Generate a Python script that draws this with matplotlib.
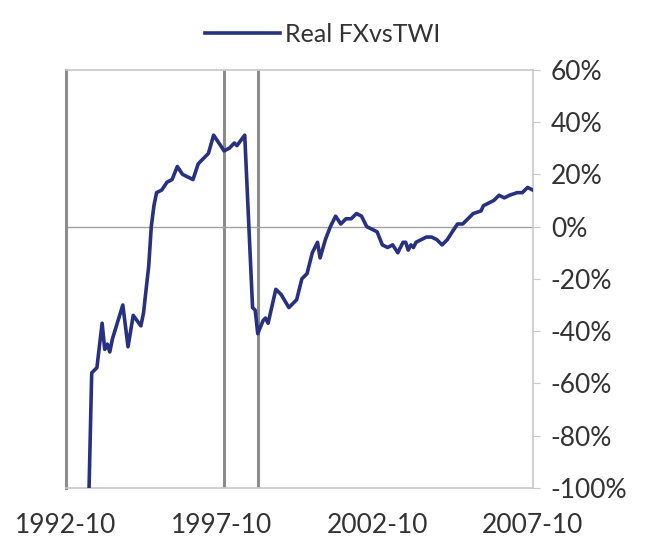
import matplotlib
matplotlib.use("Agg")
import matplotlib.pyplot as plt
import matplotlib.dates as mdates
import pandas as pd

# real FX vs TWI, %
months = ["1993-07", "1993-08", "1993-10", "1993-12", "1994-01", "1994-02", "1994-03",
          "1994-04", "1994-08", "1994-10", "1994-12", "1995-03", "1995-04", "1995-06",
          "1995-07", "1995-08", "1995-09", "1995-11", "1996-01", "1996-03", "1996-05",
          "1996-07", "1996-09", "1996-11", "1997-01", "1997-03", "1997-05", "1997-07",
          "1997-09", "1997-11", "1998-01", "1998-03", "1998-04", "1998-07", "1998-10",
          "1998-11", "1998-12", "1999-02", "1999-03", "1999-04", "1999-07", "1999-09",
          "1999-12", "2000-03", "2000-05", "2000-07", "2000-09", "2000-11", "2000-12",
          "2001-02", "2001-04", "2001-06", "2001-08", "2001-10", "2001-12", "2002-02",
          "2002-04", "2002-06", "2002-08", "2002-10", "2002-12", "2003-02", "2003-04",
          "2003-06", "2003-08", "2003-09", "2003-10", "2003-11", "2003-12", "2004-01",
          "2004-03", "2004-05", "2004-07", "2004-09", "2004-11", "2005-01", "2005-03",
          "2005-05", "2005-07", "2005-09", "2005-11", "2006-02", "2006-03", "2006-05",
          "2006-07", "2006-09", "2006-11", "2007-01", "2007-04", "2007-06", "2007-08",
          "2007-10"]
real_fx = [-100, -56, -54, -37, -47, -45, -48,
           -43, -30, -46, -34, -38, -33, -15,
           0, 8, 13, 14, 17, 18, 23,
           20, 19, 18, 24, 26, 28, 35,
           32, 29, 30, 32, 31, 35, -31,
           -32, -41, -36, -35, -37, -24, -26,
           -31, -28, -20, -18, -10, -6, -12,
           -5, 0, 4, 1, 3, 3, 5,
           4, 0, -1, -2, -7, -8, -7,
           -10, -6, -6, -9, -7, -8, -6,
           -5, -4, -4, -5, -7, -5, -2,
           1, 1, 3, 5, 6, 8, 9,
           10, 12, 11, 12, 13, 13, 15,
           14]
markers = ["1997-11", "1998-12"]
xticks = ["1992-10", "1997-10", "2002-10", "2007-10"]
yticks = [60, 40, 20, 0, -20, -40, -60, -80, -100]

dates = pd.to_datetime(months)

plt.rcParams['font.family'] = ['Lato', 'DejaVu Sans']
fig = plt.figure(figsize=(6.45, 5.5), dpi=100)
ax = fig.add_axes([0.102, 0.113, 0.724, 0.76])

for m in markers:
    ax.axvline(pd.to_datetime(m), color="#8c8c8c", lw=2.2, zorder=1)
ax.axhline(0, color="#a0a0a0", lw=1, zorder=1)
ax.plot(dates, real_fx, color="#27317f", lw=2.6, label="Real FXvsTWI", zorder=3)

ax.set_xlim(pd.to_datetime("1992-10"), pd.to_datetime("2007-10"))
ax.set_ylim(-100, 60)
ax.set_xticks(pd.to_datetime(xticks))
ax.xaxis.set_major_formatter(mdates.DateFormatter("%Y-%m"))
ax.set_yticks(yticks)
ax.set_yticklabels([f"{v}%" for v in yticks])
ax.yaxis.tick_right()

for side in ["top", "bottom", "right"]:
    ax.spines[side].set_color("#c8c8c8")
    ax.spines[side].set_linewidth(1.2)
ax.spines["left"].set_color("#8c8c8c")
ax.spines["left"].set_linewidth(2.2)

ax.tick_params(axis="y", length=5, color="#c8c8c8", labelsize=19, labelcolor="#333333", pad=8)
ax.tick_params(axis="x", length=0, labelsize=19, labelcolor="#333333", pad=18)

fig.legend(loc="upper center", bbox_to_anchor=(0.5, 1.0), frameon=False,
           fontsize=18, handlelength=3.0, handletextpad=0.2, labelcolor="#333333")

fig.savefig("out.png", dpi=100)
